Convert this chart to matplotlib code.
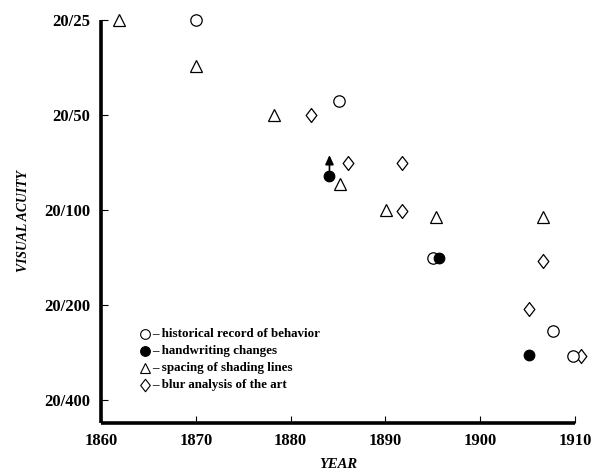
import matplotlib
matplotlib.use("Agg")
import matplotlib.pyplot as plt
from matplotlib.path import Path

# ---- data (year, denominator of 20/x acuity) ----
hist_years = [1870.0, 1885.1, 1895.0, 1907.7, 1909.8]
hist_acuity = [25, 45, 142, 242, 290]

hand_years = [1884.1, 1895.7, 1905.2]
hand_acuity = [78, 142, 287]

shade_years = [1861.9, 1870.0, 1878.2, 1885.2, 1890.1, 1895.3, 1906.6]
shade_acuity = [25, 35, 50, 83, 100, 105, 105]

blur_years = [1882.2, 1886.1, 1891.8, 1891.7, 1906.6, 1905.1, 1910.6]
blur_acuity = [50, 71, 71, 101, 145, 206, 290]

ytick_values = [25, 50, 100, 200, 400]
ytick_labels = ["20/25", "20/50", "20/100", "20/200", "20/400"]
xtick_values = [1860, 1870, 1880, 1890, 1900, 1910]

legend_labels = ["historical record of behavior", "handwriting changes",
                 "spacing of shading lines", "blur analysis of the art"]

SERIF = "Liberation Serif"

fig = plt.figure(figsize=(5.98, 4.75), dpi=100)
ax = fig.add_axes([101/598, 1-423/475, (575-101)/598, (423-20)/475])

ax.set_yscale("log", base=2)
ax.set_xlim(1860, 1910)
ax.set_ylim(400 * 2**0.242, 25)

diamond = Path([(0, 1), (0.77, 0), (0, -1), (-0.77, 0), (0, 1)],
               [Path.MOVETO, Path.LINETO, Path.LINETO, Path.LINETO, Path.CLOSEPOLY])

common = dict(linestyle="none", clip_on=False, markeredgecolor="black",
              markeredgewidth=0.9, zorder=3)
ax.plot(shade_years, shade_acuity, marker="^", markersize=9,
        markerfacecolor="white", **common)
ax.plot(blur_years, blur_acuity, marker=diamond, markersize=10,
        markerfacecolor="white", **common)
ax.plot(hist_years, hist_acuity, marker="o", markersize=8.2,
        markerfacecolor="white", **common)
ax.plot(hand_years, hand_acuity, marker="o", markersize=7.6,
        markerfacecolor="black", **common)

# arrow above first handwriting point
ax.annotate("", xy=(hand_years[0], hand_acuity[0] / 2**0.22),
            xytext=(hand_years[0], hand_acuity[0] / 2**0.06),
            arrowprops=dict(arrowstyle="-|>,head_length=0.55,head_width=0.25",
                            color="black", lw=1.2, shrinkA=0, shrinkB=0),
            zorder=4)

for s in ["top", "right"]:
    ax.spines[s].set_visible(False)
for s in ["left", "bottom"]:
    ax.spines[s].set_linewidth(2.6)
    ax.spines[s].set_capstyle("butt")

ax.set_yticks(ytick_values)
ax.set_yticklabels(ytick_labels)
ax.yaxis.set_minor_locator(matplotlib.ticker.NullLocator())
ax.set_xticks(xtick_values)
ax.set_xticklabels([str(v) for v in xtick_values])
ax.tick_params(direction="in", length=5, width=0.8, pad=8)
ax.tick_params(axis="x", pad=7.5)
for lab in ax.get_xticklabels() + ax.get_yticklabels():
    lab.set_fontfamily(SERIF)
    lab.set_fontweight("bold")
    lab.set_fontsize(12)

ax.set_xlabel("YEAR", fontfamily=SERIF, fontweight="bold", fontstyle="italic",
              fontsize=10.5, labelpad=6)
ax.set_ylabel("VISUAL ACUITY", fontfamily=SERIF, fontweight="bold",
              fontstyle="italic", fontsize=9.8, labelpad=10)

# custom legend
leg_markers = [("o", "white", 7), ("o", "black", 7), ("^", "white", 7.5), (diamond, "white", 9)]
leg_y = [334, 351, 368, 385]
for (m, fc, ms), ly, txt in zip(leg_markers, leg_y, legend_labels):
    fy = 1 - ly / 475
    fig.lines.append(plt.Line2D([145/598], [fy], transform=fig.transFigure,
                                marker=m, markersize=ms, markerfacecolor=fc,
                                markeredgecolor="black", markeredgewidth=0.8,
                                linestyle="none"))
    fig.text(152/598, fy, "\u2013 " + txt, fontfamily=SERIF, fontweight="bold",
             fontsize=9.4, va="center", ha="left")

fig.savefig("out.png", dpi=100)
